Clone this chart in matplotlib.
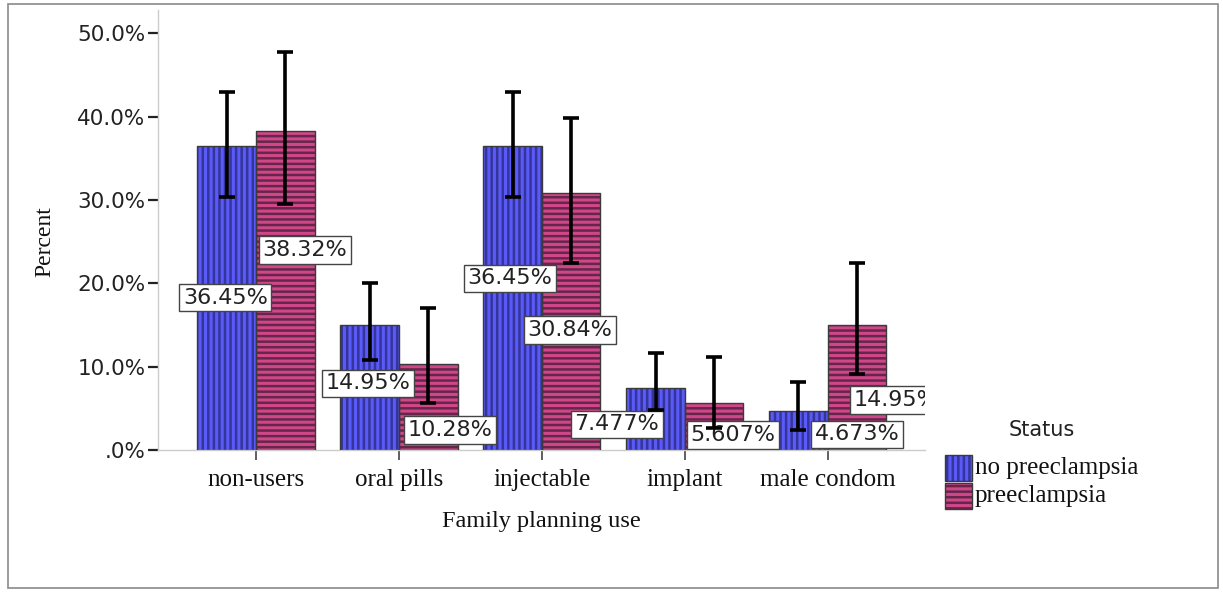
import matplotlib
matplotlib.use("Agg")
import matplotlib.pyplot as plt
from matplotlib.patches import Rectangle
import numpy as np


categories = ["non-users", "oral pills", "injectable", "implant", "male condom"]
groups = ["no preeclampsia", "preeclampsia"]

no_pe = [36.45, 14.95, 36.45, 7.477, 4.673]
no_pe_lo = [30.3, 10.8, 30.3, 4.8, 2.4]
no_pe_hi = [43.0, 20.1, 43.0, 11.6, 8.2]

pe = [38.32, 10.28, 30.84, 5.607, 14.95]
pe_lo = [29.5, 5.6, 22.5, 2.6, 9.1]
pe_hi = [47.8, 17.1, 39.9, 11.2, 22.5]

yticks = [0, 10, 20, 30, 40, 50]
ytick_labels = [".0%", "10.0%", "20.0%", "30.0%", "40.0%", "50.0%"]

# label placement (dx from bar centre, y in percent) - mimics SPSS collision layout
no_pe_lab = [(-0.01, 18.3), (-0.01, 8.0), (-0.02, 20.6), (-0.27, 3.1), (0.41, 1.9)]
pe_lab = [(0.137, 24.0), (0.15, 2.4), (-0.01, 14.4), (0.13, 1.8), (0.27, 6.0)]

BLUE = "#5a5af8"
BLUE_H = "#34349a"
PINK = "#cf4789"
PINK_H = "#66264a"
EDGE = "#3a3a3a"

SANS = "DejaVu Sans"
SERIF = "Liberation Serif"

plt.rcParams.update({
    "hatch.linewidth": 1.8,
    "font.family": SANS,
})

W, H = 1223, 592
fig = plt.figure(figsize=(W / 100, H / 100), dpi=100)
fig.patch.set_facecolor("white")

# outer frame
fig.add_artist(Rectangle((8 / W, 4 / H), 1210 / W, 584 / H, transform=fig.transFigure,
                         fill=False, edgecolor="#8a8a8a", lw=1.2))

ax = fig.add_axes([158 / W, (H - 450) / H, (925 - 158) / W, 440 / H])
ax.set_xlim(-0.685, 4.68)
ax.set_ylim(0, 52.8)

x = np.arange(len(categories))
bw = 0.41


def draw_bars(xpos, vals, face, hatch_col, hatch):
    ax.bar(xpos, vals, bw, color=face, edgecolor=hatch_col, hatch=hatch, lw=0, zorder=2)
    ax.bar(xpos, vals, bw, fill=False, edgecolor=EDGE, lw=1.0, zorder=3)


draw_bars(x - bw / 2, no_pe, BLUE, BLUE_H, "|||")
draw_bars(x + bw / 2, pe, PINK, PINK_H, "---")


def draw_labels(xpos, vals, lab):
    for xi, v, (dx, yy) in zip(xpos, vals, lab):
        t = ax.text(xi + dx, yy, f"{v:.4g}%", ha="center", va="center", fontsize=16,
                    family=SANS, color="#222222", zorder=4, clip_on=True,
                    bbox=dict(boxstyle="square,pad=0.16", facecolor="white",
                              edgecolor="#444444", lw=1.0))
        t.set_clip_box(ax.bbox)
        t.get_bbox_patch().set_clip_box(ax.bbox)
        t.get_bbox_patch().set_clip_on(True)


draw_labels(x - bw / 2, no_pe, no_pe_lab)
draw_labels(x + bw / 2, pe, pe_lab)


def draw_err(xpos, vals, lo, hi):
    v = np.array(vals)
    yerr = [v - np.array(lo), np.array(hi) - v]
    ax.errorbar(xpos, v, yerr=yerr, fmt="none", ecolor="black", elinewidth=2.6,
                capsize=6, capthick=2.6, zorder=5)


draw_err(x - bw / 2, no_pe, no_pe_lo, no_pe_hi)
draw_err(x + bw / 2, pe, pe_lo, pe_hi)

for s in ["top", "right"]:
    ax.spines[s].set_visible(False)
ax.spines["left"].set_color("#cccccc")
ax.spines["bottom"].set_color("#cccccc")
ax.spines["left"].set_linewidth(1.0)
ax.spines["bottom"].set_linewidth(1.0)

ax.set_yticks(yticks)
ax.set_yticklabels(ytick_labels, fontsize=15.5, family=SANS, color="#222222")
ax.set_xticks(x)
ax.set_xticklabels(categories, fontsize=18, family=SERIF, color="#111111")
ax.tick_params(axis="y", direction="out", length=7, width=1.6, color="#222222", pad=2)
ax.tick_params(axis="x", direction="out", length=7, width=1.2, color="#444444", pad=7)

fig.text(45 / W, 1 - 242 / H, "Percent", rotation=90, ha="center", va="center",
         fontsize=17, family=SERIF, color="#111111")
fig.text(541 / W, 1 - 522 / H, "Family planning use", ha="center", va="center",
         fontsize=17.5, family=SERIF, color="#111111")

# legend
fig.text(1042 / W, 1 - 430 / H, "Status", ha="center", va="center", fontsize=15,
         family=SANS, color="#222222")
leg = [(BLUE, BLUE_H, "|||"), (PINK, PINK_H, "---")]
for i, (name, (fc, hc, hp)) in enumerate(zip(groups, leg)):
    y0 = 455 + i * 28
    fig.add_artist(Rectangle((945 / W, 1 - (y0 + 26) / H), 27 / W, 26 / H,
                             transform=fig.transFigure, facecolor=fc, edgecolor=hc,
                             hatch=hp, lw=0))
    fig.add_artist(Rectangle((945 / W, 1 - (y0 + 26) / H), 27 / W, 26 / H,
                             transform=fig.transFigure, fill=False, edgecolor=EDGE, lw=1.0))
    fig.text(975 / W, 1 - (y0 + 13) / H, name, ha="left", va="center", fontsize=18,
             family=SERIF, color="#111111")

fig.savefig("out.png", dpi=100)
